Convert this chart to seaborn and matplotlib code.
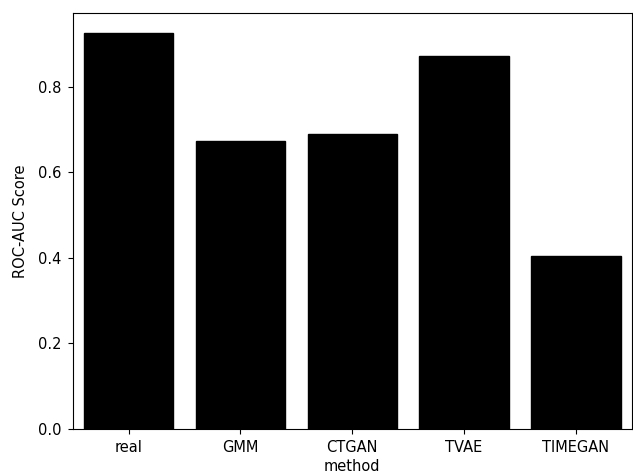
import matplotlib
matplotlib.use("Agg")
import matplotlib.pyplot as plt
import seaborn as sns
import pandas as pd

methods = ["real", "GMM", "CTGAN", "TVAE", "TIMEGAN"]
scores = [0.926, 0.673, 0.689, 0.872, 0.405]

df = pd.DataFrame({"method": methods, "ROC-AUC Score": scores})

plt.rcParams["font.size"] = 10.5
fig, ax = plt.subplots(figsize=(6.33, 4.74), dpi=100)
sns.barplot(data=df, x="method", y="ROC-AUC Score", color="black", ax=ax)
for p in ax.patches:
    p.set_facecolor("black")
    p.set_edgecolor("black")
ax.tick_params(labelsize=10.5, pad=4.5)
ax.set_ylabel("ROC-AUC Score", fontsize=10.5, labelpad=7)
ax.set_xlabel("method", fontsize=10.5, labelpad=3)
fig.subplots_adjust(left=0.115, right=0.998, top=0.973, bottom=0.095)
fig.savefig("out.png", dpi=100)
